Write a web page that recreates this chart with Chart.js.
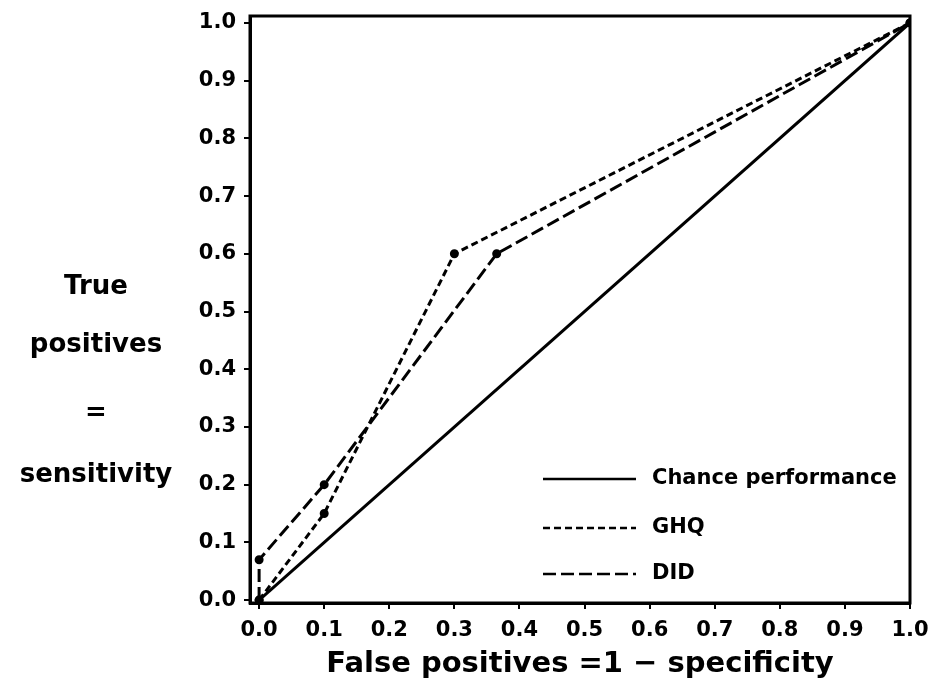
<!DOCTYPE html>
<html>
<head>
<meta charset="utf-8">
<script src="https://cdn.jsdelivr.net/npm/chart.js@4.4.0/dist/chart.umd.min.js"></script>
<style>
  html, body { margin: 0; padding: 0; background: #fff; }
  #wrap { width: 934px; height: 693px; }
</style>
</head>
<body>
<div id="wrap"><canvas id="roc" width="934" height="693"></canvas></div>
<script>
// ROC curve data
const tickValues = [0, 0.1, 0.2, 0.3, 0.4, 0.5, 0.6, 0.7, 0.8, 0.9, 1.0];
const chanceX = [0, 1];
const chanceY = [0, 1];
const ghqX = [0, 0.1, 0.3, 1];
const ghqY = [0, 0.15, 0.6, 1];
const didX = [0, 0, 0.1, 0.365, 1];
const didY = [0, 0.07, 0.2, 0.6, 1];
const seriesNames = ['Chance performance', 'GHQ', 'DID'];
const yTitleLines = ['True', 'positives', '=', 'sensitivity'];
const xTitle = 'False positives =1 \u2212 specificity';

const FONT = '"DejaVu Sans", sans-serif';

function toPoints(xs, ys) {
  return xs.map((x, i) => ({ x: x, y: ys[i] }));
}

// frame + horizontal y title + legend inside the plot
const extras = {
  id: 'extras',
  afterDraw(chart) {
    const ctx = chart.ctx;
    const a = chart.chartArea;
    ctx.save();
    ctx.strokeStyle = '#000';
    ctx.lineWidth = 3;
    ctx.strokeRect(a.left, a.top, a.right - a.left, a.bottom - a.top);

    ctx.fillStyle = '#000';
    ctx.font = 'bold 26px ' + FONT;
    ctx.textAlign = 'center';
    ctx.textBaseline = 'middle';
    const ys = [287, 345, 413, 475];
    yTitleLines.forEach((t, i) => ctx.fillText(t, 96, ys[i]));

    // legend
    const rows = [479, 528, 574];
    chart.data.datasets.forEach((ds, i) => {
      ctx.beginPath();
      ctx.setLineDash(ds.borderDash || []);
      ctx.lineWidth = 2.5;
      ctx.moveTo(543, rows[i]);
      ctx.lineTo(636, rows[i]);
      ctx.stroke();
      ctx.setLineDash([]);
      ctx.font = 'bold 21px ' + FONT;
      ctx.textAlign = 'left';
      ctx.fillText(seriesNames[i], 652, rows[i]);
    });
    ctx.restore();
  }
};

new Chart(document.getElementById('roc'), {
  type: 'scatter',
  data: {
    datasets: [
      {
        label: seriesNames[0],
        data: toPoints(chanceX, chanceY),
        showLine: true,
        borderColor: '#000',
        borderWidth: 3,
        pointRadius: 0
      },
      {
        label: seriesNames[1],
        data: toPoints(ghqX, ghqY),
        showLine: true,
        borderColor: '#000',
        backgroundColor: '#000',
        borderWidth: 3,
        borderDash: [7, 4],
        pointRadius: 3
      },
      {
        label: seriesNames[2],
        data: toPoints(didX, didY),
        showLine: true,
        borderColor: '#000',
        backgroundColor: '#000',
        borderWidth: 3,
        borderDash: [13, 5],
        pointRadius: 3
      }
    ]
  },
  options: {
    responsive: false,
    animation: false,
    layout: { padding: { top: 16, right: 24, left: 0, bottom: 0 } },
    plugins: {
      legend: { display: false },
      tooltip: { enabled: false }
    },
    scales: {
      x: {
        type: 'linear',
        min: -0.014,
        max: 1.0,
        afterBuildTicks: s => { s.ticks = tickValues.map(v => ({ value: v })); },
        afterFit: s => { s.height = 90; s.paddingLeft = 0; s.paddingRight = 0; },
        grid: { drawOnChartArea: false, drawTicks: true, tickLength: 6, color: '#000', lineWidth: 2 },
        border: { display: true, color: '#000', width: 3 },
        ticks: {
          color: '#000',
          padding: 9,
          maxRotation: 0,
          autoSkip: false,
          font: { family: FONT, weight: 'bold', size: 21 },
          callback: v => v.toFixed(1)
        },
        title: {
          display: true,
          text: xTitle,
          color: '#000',
          font: { family: FONT, weight: 'bold', size: 29 },
          padding: { top: 14, bottom: 11 }
        }
      },
      y: {
        type: 'linear',
        min: -0.005,
        max: 1.012,
        afterBuildTicks: s => { s.ticks = tickValues.map(v => ({ value: v })); },
        afterFit: s => { s.width = 250; s.paddingTop = 0; s.paddingBottom = 0; },
        grid: { drawOnChartArea: false, drawTicks: true, tickLength: 6, color: '#000', lineWidth: 2 },
        border: { display: true, color: '#000', width: 3 },
        ticks: {
          color: '#000',
          padding: 8,
          autoSkip: false,
          font: { family: FONT, weight: 'bold', size: 21 },
          callback: v => v.toFixed(1)
        }
      }
    }
  },
  plugins: [extras]
});
</script>
</body>
</html>
